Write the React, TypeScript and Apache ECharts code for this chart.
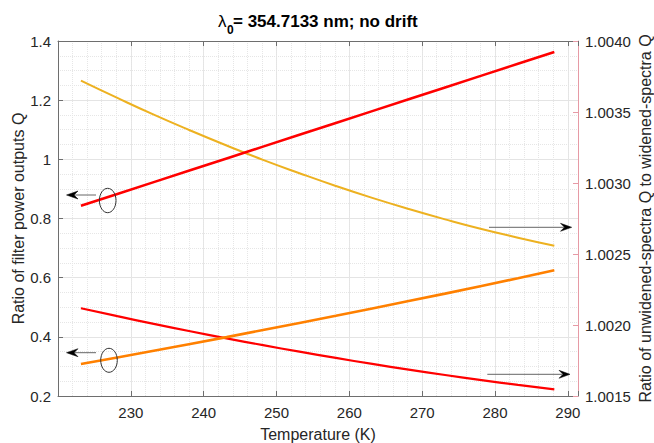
import React, { useEffect, useRef } from 'react';
import * as echarts from 'echarts';

const temperatures = [223.15, 228.15, 233.15, 238.15, 243.15, 248.15, 253.15, 258.15, 263.15, 268.15, 273.15, 278.15, 283.15, 288.15];
const redRisingLeft = [0.843, 0.883, 0.923, 0.963, 1.003, 1.043, 1.083, 1.123, 1.163, 1.203, 1.243, 1.283, 1.323, 1.363];
const orangeRisingLeft = [0.308, 0.330, 0.353, 0.376, 0.399, 0.423, 0.447, 0.471, 0.496, 0.521, 0.546, 0.572, 0.598, 0.625];
const yellowFallingRight = [1.003721, 1.003599, 1.003481, 1.00337, 1.003264, 1.003163, 1.003069, 1.002979, 1.002895, 1.002817, 1.002744, 1.002676, 1.002615, 1.002558];
const redFallingRight = [1.002118, 1.002062, 1.002008, 1.001956, 1.001906, 1.001858, 1.001812, 1.001768, 1.001726, 1.001686, 1.001648, 1.001612, 1.001578, 1.001547];

const xMin = 220;
const xMax = 291.4;
const xStep = 10;
const leftMin = 0.2;
const leftMax = 1.4;
const leftStep = 0.2;
const rightMin = 1.0015;
const rightMax = 1.004;
const rightStep = 0.0005;

const titleMain = '= 354.7133 nm; no drift';
const xName = 'Temperature (K)';
const leftName = 'Ratio of filter power outputs Q';
const rightName = 'Ratio of unwidened-spectra Q to widened-spectra Q';

const FONT = '"Liberation Sans", Arial, Helvetica, sans-serif';
const AX = '#6e6e6e';
const TXT = '#262626';
const PINK = '#e69aa5';

function pairs(xs: number[], ys: number[]) {
  return xs.map((x, i) => [x, ys[i]]);
}

export default function App() {
  const ref = useRef<HTMLDivElement>(null);
  useEffect(() => {
    if (!ref.current) return;
    const chart = echarts.init(ref.current, undefined, { renderer: 'svg' });
    const grid = { left: 58, top: 41, right: 76, bottom: 47, containLabel: false, outerBoundsMode: 'none' };
    const arrowColor = '#333333';
    const option: any = {
      animation: false,
      backgroundColor: '#ffffff',
      textStyle: { fontFamily: FONT },
      grid,
      xAxis: [
        {
          type: 'value', position: 'bottom', min: xMin, max: xMax, interval: xStep,
          name: xName, nameLocation: 'middle', nameGap: 30, nameMoveOverlap: false,
          nameTextStyle: { fontSize: 16, color: TXT, fontFamily: FONT },
          axisLine: { show: true, lineStyle: { color: AX, width: 1 } },
          axisTick: { show: true, inside: true, length: 5, lineStyle: { color: AX } },
          axisLabel: {
            fontSize: 15, color: TXT, fontFamily: FONT, margin: 9,
            formatter: (v: number) => (Math.abs(v % xStep) < 1e-6 && v > xMin ? String(v) : ''),
          },
          splitLine: { show: true, lineStyle: { color: '#e4e4e4', width: 1 } },
        },
        {
          type: 'value', position: 'top', min: xMin, max: xMax, interval: xStep,
          axisLine: { show: true, lineStyle: { color: AX, width: 1 } },
          axisTick: { show: true, inside: true, length: 5, lineStyle: { color: AX } },
          axisLabel: { show: false },
          splitLine: { show: false },
        },
        {
          type: 'value', position: 'bottom', min: xMin, max: xMax, interval: 2,
          axisLine: { show: false }, axisTick: { show: false }, axisLabel: { show: false },
          splitLine: { show: true, lineStyle: { color: '#e6e6e6', width: 1, type: 'dotted' } },
        },
      ],
      yAxis: [
        {
          type: 'value', position: 'left', min: leftMin, max: leftMax, interval: leftStep,
          name: leftName, nameLocation: 'middle', nameGap: 32, nameRotate: 90, nameMoveOverlap: false,
          nameTextStyle: { fontSize: 16, color: TXT, fontFamily: FONT },
          axisLine: { show: true, lineStyle: { color: AX, width: 1 } },
          axisTick: { show: true, inside: true, length: 5, lineStyle: { color: AX } },
          axisLabel: {
            fontSize: 15, color: TXT, fontFamily: FONT, margin: 7,
            formatter: (v: number) => String(Number(v.toFixed(2))),
          },
          splitLine: { show: true, lineStyle: { color: '#e4e4e4', width: 1 } },
          minorTick: { show: false, splitNumber: 4 },
          minorSplitLine: { show: true, lineStyle: { color: '#e6e6e6', width: 1, type: 'dotted' } },
        },
        {
          type: 'value', position: 'right', min: rightMin, max: rightMax, interval: rightStep,
          name: rightName, nameLocation: 'middle', nameGap: 59, nameRotate: 90, nameMoveOverlap: false,
          nameTextStyle: { fontSize: 16, color: TXT, fontFamily: FONT },
          axisLine: { show: true, lineStyle: { color: PINK, width: 1 } },
          axisTick: { show: true, inside: true, length: 5, lineStyle: { color: PINK } },
          axisLabel: {
            fontSize: 15, color: TXT, fontFamily: FONT, margin: 7,
            formatter: (v: number) => v.toFixed(4),
          },
          splitLine: { show: false },
        },
      ],
      series: [
        {
          type: 'line', xAxisIndex: 0, yAxisIndex: 0, data: pairs(temperatures, redRisingLeft),
          showSymbol: false, symbol: 'none', smooth: false,
          lineStyle: { color: '#ff0000', width: 2.6 }, z: 5,
        },
        {
          type: 'line', xAxisIndex: 0, yAxisIndex: 0, data: pairs(temperatures, orangeRisingLeft),
          showSymbol: false, symbol: 'none', smooth: false,
          lineStyle: { color: '#ff8000', width: 2.6 }, z: 5,
        },
        {
          type: 'line', xAxisIndex: 0, yAxisIndex: 1, data: pairs(temperatures, yellowFallingRight),
          showSymbol: false, symbol: 'none', smooth: true,
          lineStyle: { color: '#edb120', width: 2 }, z: 4,
        },
        {
          type: 'line', xAxisIndex: 0, yAxisIndex: 1, data: pairs(temperatures, redFallingRight),
          showSymbol: false, symbol: 'none', smooth: true,
          lineStyle: { color: '#ff0000', width: 2.2 }, z: 4,
        },
      ],
      graphic: [
        { type: 'text', x: 218, y: 21, style: { text: 'λ', fontSize: 17, fontFamily: FONT, fill: '#000', align: 'left', verticalAlign: 'middle' } },
        { type: 'text', x: 227, y: 30, style: { text: '0', fontSize: 12, fontWeight: 'bold', fontFamily: FONT, fill: '#000', align: 'left', verticalAlign: 'middle' } },
        { type: 'text', x: 233, y: 21, style: { text: titleMain, fontSize: 17, fontWeight: 'bold', fontFamily: FONT, fill: '#000', align: 'left', verticalAlign: 'middle' } },
        // left annotation 1
        { type: 'ellipse', shape: { cx: 107.7, cy: 200.5, rx: 8.3, ry: 12.2 }, style: { fill: 'none', stroke: arrowColor, lineWidth: 1 }, z: 10 },
        { type: 'line', shape: { x1: 96, y1: 195, x2: 73, y2: 195 }, style: { stroke: '#666', lineWidth: 1 }, z: 10 },
        { type: 'polygon', shape: { points: [[66.5, 195], [78, 191], [74, 195], [78, 199]] }, style: { fill: '#000', stroke: '#000', lineWidth: 0.5 }, z: 10 },
        // left annotation 2
        { type: 'ellipse', shape: { cx: 109, cy: 360.3, rx: 8.3, ry: 12 }, style: { fill: 'none', stroke: arrowColor, lineWidth: 1 }, z: 10 },
        { type: 'line', shape: { x1: 96, y1: 352.7, x2: 73, y2: 352.7 }, style: { stroke: '#666', lineWidth: 1 }, z: 10 },
        { type: 'polygon', shape: { points: [[66.5, 352.7], [78, 348.7], [74, 352.7], [78, 356.7]] }, style: { fill: '#000', stroke: '#000', lineWidth: 0.5 }, z: 10 },
        // right arrow 1
        { type: 'line', shape: { x1: 489, y1: 227.3, x2: 564, y2: 227.3 }, style: { stroke: '#666', lineWidth: 1 }, z: 10 },
        { type: 'polygon', shape: { points: [[571.7, 227.3], [560.5, 223.3], [564.5, 227.3], [560.5, 231.3]] }, style: { fill: '#000', stroke: '#000', lineWidth: 0.5 }, z: 10 },
        // right arrow 2
        { type: 'line', shape: { x1: 487.3, y1: 374.3, x2: 562.5, y2: 374.3 }, style: { stroke: '#666', lineWidth: 1 }, z: 10 },
        { type: 'polygon', shape: { points: [[570, 374.3], [559, 370.3], [563, 374.3], [559, 378.3]] }, style: { fill: '#000', stroke: '#000', lineWidth: 0.5 }, z: 10 },
      ],
    };
    chart.setOption(option);
    return () => chart.dispose();
  }, []);
  return <div ref={ref} style={{ width: 654, height: 443, position: 'absolute', left: 0, top: 0 }} />;
}
